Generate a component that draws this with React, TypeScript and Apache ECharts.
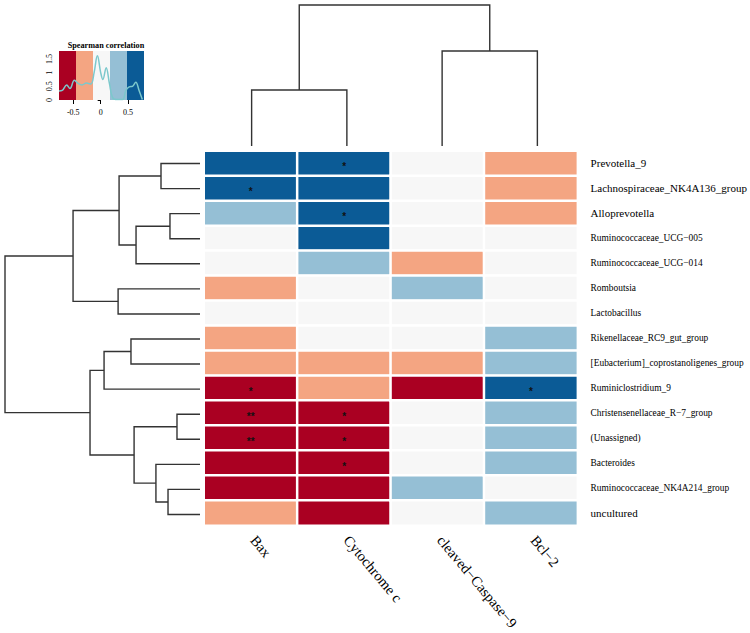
import React, { useEffect, useRef } from "react";
import * as echarts from "echarts";

const colLabels = ["Bax", "Cytochrome c", "cleaved−Caspase−9", "Bcl−2"];
const rowLabels = [
  "Prevotella_9",
  "Lachnospiraceae_NK4A136_group",
  "Alloprevotella",
  "Ruminococcaceae_UCG−005",
  "Ruminococcaceae_UCG−014",
  "Romboutsia",
  "Lactobacillus",
  "Rikenellaceae_RC9_gut_group",
  "[Eubacterium]_coprostanoligenes_group",
  "Ruminiclostridium_9",
  "Christensenellaceae_R−7_group",
  "(Unassigned)",
  "Bacteroides",
  "Ruminococcaceae_NK4A214_group",
  "uncultured",
];
const bigRowLabels = [0, 1, 2, 14];

// correlation values, one array per column (rows in display order)
const baxCorr = [0.58, 0.62, 0.32, 0.02, -0.05, -0.3, 0.0, -0.28, -0.33, -0.6, -0.72, -0.7, -0.55, -0.52, -0.35];
const cytoCorr = [0.6, 0.55, 0.63, 0.52, 0.3, 0.05, -0.02, 0.08, -0.25, -0.3, -0.6, -0.58, -0.6, -0.55, -0.5];
const caspCorr = [0.03, 0.05, 0.0, -0.08, -0.3, 0.25, 0.02, -0.05, -0.2, -0.5, -0.1, -0.05, 0.06, 0.22, -0.02];
const bclCorr = [-0.35, -0.3, -0.25, 0.1, 0.04, -0.07, 0.12, 0.3, 0.3, 0.6, 0.35, 0.32, 0.28, 0.12, 0.32];

const baxSig = ["", "*", "", "", "", "", "", "", "", "*", "**", "**", "", "", ""];
const cytoSig = ["*", "", "*", "", "", "", "", "", "", "", "*", "*", "*", "", ""];
const caspSig = ["", "", "", "", "", "", "", "", "", "", "", "", "", "", ""];
const bclSig = ["", "", "", "", "", "", "", "", "", "*", "", "", "", "", ""];

// colour key
const keyBreaks = [-0.76, -0.45, -0.14, 0.17, 0.48, 0.79];
const keyColors = ["#AA0022", "#F4A582", "#F7F7F7", "#95BFD5", "#0B5B96"];
const densityX = [-0.76, -0.7, -0.62, -0.56, -0.48, -0.42, -0.34, -0.26, -0.18, -0.12, -0.06, 0.0, 0.04, 0.1, 0.16, 0.22, 0.3, 0.4, 0.46, 0.52, 0.58, 0.64, 0.7, 0.76];
const densityY = [0.33, 0.35, 0.55, 0.42, 0.72, 0.62, 0.55, 0.62, 0.58, 1.0, 1.62, 1.0, 0.75, 1.18, 0.6, 0.08, 0.02, 0.02, 0.35, 0.48, 0.5, 0.65, 0.35, 0.02];
const keyXTicks = [-0.5, 0, 0.5];
const keyYTicks = [0, 0.5, 1, 1.5];

// dendrograms: [left, right, height]; negative = leaf -(index+1), positive = merge number (1-based)
const rowMerges = [
  [-11, -12, 0.118],
  [-3, -4, 0.154],
  [-14, -15, 0.164],
  [-1, -2, 0.2],
  [-13, 3, 0.226],
  [2, -5, 0.328],
  [1, 5, 0.338],
  [-8, -9, 0.354],
  [4, 6, 0.415],
  [-6, -7, 0.42],
  [8, -10, 0.492],
  [11, 7, 0.564],
  [9, 10, 0.651],
  [13, 12, 1.0],
];
const colMerges = [
  [-1, -2, 0.397],
  [-3, -4, 0.674],
  [1, 2, 1.0],
];

function dendroItems(merges: number[][]) {
  const pos: number[] = [];
  const hgt: number[] = [];
  const get = (n: number) => (n < 0 ? [-n - 1, 0] : [pos[n - 1], hgt[n - 1]]);
  const items: number[][] = [];
  merges.forEach((m, k) => {
    const [pa, ha] = get(m[0]);
    const [pb, hb] = get(m[1]);
    pos[k] = (pa + pb) / 2;
    hgt[k] = m[2];
    items.push([pa, ha, pb, hb, m[2]]);
  });
  return items;
}

const serif = "'Liberation Serif', 'DejaVu Serif', serif";

export default function App() {
  const ref = useRef<HTMLDivElement>(null);
  useEffect(() => {
    document.body.style.margin = "0";
    const chart = echarts.init(ref.current!, null, { renderer: "svg" });
    const cols = [baxCorr, cytoCorr, caspCorr, bclCorr];
    const sigs = [baxSig, cytoSig, caspSig, bclSig];
    const heatData: any[] = [];
    cols.forEach((arr, c) =>
      arr.forEach((v, r) => heatData.push({ value: [c, r, v], sig: sigs[c][r] }))
    );
    const keyData = keyColors.map((_, i) => [keyBreaks[i], keyBreaks[i + 1], i]);
    const dendroRender = (orient: string) => (params: any, api: any) => {
      const pa = api.value(0), ha = api.value(1), pb = api.value(2), hb = api.value(3), h = api.value(4);
      const pts =
        orient === "row"
          ? [[ha, pa], [h, pa], [h, pb], [hb, pb]]
          : [[pa, ha], [pa, h], [pb, h], [pb, hb]];
      return {
        type: "polyline",
        shape: { points: pts.map((p) => api.coord(p)) },
        style: { stroke: "#333", lineWidth: 1.4, fill: null },
      };
    };
    const option: any = {
      animation: false,
      backgroundColor: "#fff",
      title: {
        text: "Spearman correlation",
        left: 101,
        textAlign: "center",
        top: 36,
        textStyle: { fontFamily: serif, fontWeight: "bold", fontSize: 8.2, color: "#000" },
      },
      grid: [
        { left: 204, top: 151, width: 381, height: 376 },
        { left: 5, top: 151, width: 195, height: 376 },
        { left: 204, top: 5, width: 381, height: 141 },
        { left: 59, top: 51, width: 85, height: 49 },
      ],
      xAxis: [
        {
          type: "category",
          gridIndex: 0,
          data: colLabels,
          position: "bottom",
          axisLine: { show: false },
          axisTick: { show: false },
          axisLabel: { rotate: -50, margin: 9, padding: [0, 0, 0, 4], fontSize: 14.5, color: "#000", fontFamily: serif },
        },
        { type: "value", gridIndex: 1, min: 0, max: 1, inverse: true, show: false },
        { type: "value", gridIndex: 2, min: -0.5, max: 3.5, show: false },
        {
          type: "value",
          gridIndex: 3,
          min: keyBreaks[0],
          max: keyBreaks[keyBreaks.length - 1],
          splitLine: { show: false },
          axisLine: { show: false },
          axisTick: { show: true, length: 4, customValues: keyXTicks, lineStyle: { color: "#000" } },
          axisLabel: { customValues: keyXTicks, fontSize: 8, margin: 8, color: "#000", fontFamily: serif },
        },
      ],
      yAxis: [
        {
          type: "category",
          gridIndex: 0,
          data: rowLabels,
          inverse: true,
          position: "right",
          axisLine: { show: false },
          axisTick: { show: false },
          axisLabel: {
            margin: 13,
            color: "#000",
            formatter: (v: string, i: number) => (bigRowLabels.includes(i) ? `{b|${v}}` : `{s|${v}}`),
            rich: {
              b: { fontSize: 11, fontFamily: serif, color: "#000" },
              s: { fontSize: 9.4, fontFamily: serif, color: "#000" },
            },
          },
        },
        { type: "value", gridIndex: 1, min: -0.5, max: 14.5, inverse: true, show: false },
        { type: "value", gridIndex: 2, min: 0, max: 1, show: false },
        {
          type: "value",
          gridIndex: 3,
          min: 0,
          max: 1.79,
          splitLine: { show: false },
          axisLine: { show: false },
          axisTick: { show: true, length: 3, customValues: keyYTicks, lineStyle: { color: "#000" } },
          axisLabel: { customValues: keyYTicks, rotate: 90, fontSize: 8, margin: 6, color: "#000", fontFamily: serif },
        },
      ],
      visualMap: {
        type: "piecewise",
        show: false,
        seriesIndex: 0,
        dimension: 2,
        pieces: keyColors.map((c, i) => ({
          gte: i === 0 ? -10 : keyBreaks[i],
          lt: i === keyColors.length - 1 ? 10 : keyBreaks[i + 1],
          color: c,
        })),
      },
      series: [
        {
          type: "heatmap",
          xAxisIndex: 0,
          yAxisIndex: 0,
          data: heatData,
          itemStyle: { borderColor: "#fff", borderWidth: 2.5 },
          label: {
            show: true,
            formatter: (p: any) => p.data.sig,
            fontSize: 10,
            fontWeight: "bold",
            color: "#111",
            offset: [0, 3],
          },
          emphasis: { disabled: true },
        },
        {
          type: "custom",
          xAxisIndex: 1,
          yAxisIndex: 1,
          data: dendroItems(rowMerges),
          renderItem: dendroRender("row"),
          silent: true,
        },
        {
          type: "custom",
          xAxisIndex: 2,
          yAxisIndex: 2,
          data: dendroItems(colMerges),
          renderItem: dendroRender("col"),
          silent: true,
        },
        {
          type: "custom",
          xAxisIndex: 3,
          yAxisIndex: 3,
          data: keyData,
          renderItem: (params: any, api: any) => {
            const p0 = api.coord([api.value(0), 1.79]);
            const p1 = api.coord([api.value(1), 0]);
            return {
              type: "rect",
              shape: { x: p0[0], y: p0[1], width: p1[0] - p0[0], height: p1[1] - p0[1] },
              style: { fill: keyColors[api.value(2)] },
            };
          },
          silent: true,
        },
        {
          type: "line",
          xAxisIndex: 3,
          yAxisIndex: 3,
          data: densityX.map((x, i) => [x, densityY[i]]),
          smooth: 0.4,
          symbol: "none",
          lineStyle: { color: "#7CC8CC", width: 1.5 },
          z: 5,
          silent: true,
        },
      ],
    };
    chart.setOption(option);
    return () => chart.dispose();
  }, []);
  return <div ref={ref} style={{ width: 750, height: 633 }} />;
}
